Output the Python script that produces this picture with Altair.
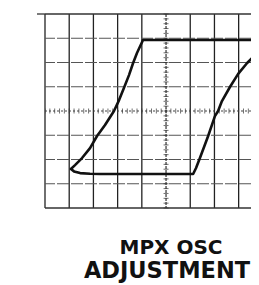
import altair as alt
import pandas as pd

# Oscilloscope graticule: 10 x 8 divisions, visible part is cropped at right
X_MAX = 8.51
vlines = [0, 1, 2, 3, 4, 6, 7, 8]
hlines = [-3, -2, -1, 1, 2, 3]
borders_y = [-4, 4]
minor_x = [round(0.2 * i, 1) for i in range(0, 43)]
minor_y = [round(0.2 * i, 1) for i in range(-20, 21)]

# Trace (in divisions), one continuous path
trace_x = [9.40, 9.10, 8.84, 8.35, 7.98, 7.64, 7.31, 7.15, 7.02, 6.74, 6.40, 6.24, 6.12,
           2.27, 1.86, 1.45, 1.20, 1.07,
           1.24, 1.53, 1.86, 2.15, 2.48, 2.85, 3.06, 3.26, 3.47, 3.64, 3.80, 4.05,
           10.0]
trace_y = [2.90, 2.72, 2.47, 1.98, 1.53, 0.99, 0.41, 0.00, -0.21, -1.03, -1.94, -2.35, -2.60,
           -2.60, -2.59, -2.56, -2.49, -2.39,
           -2.23, -1.94, -1.53, -1.03, -0.58, 0.00, 0.45, 0.95, 1.48, 1.98, 2.39, 2.93,
           2.93]

title_lines = ["MPX OSC", "ADJUSTMENT"]

W, H = 206, 194
xs = alt.Scale(domain=[0, X_MAX], nice=False, zero=False)
ys = alt.Scale(domain=[-4, 4], nice=False, zero=False)

vdf = pd.DataFrame({"x": vlines})
hdf = pd.DataFrame({"y": hlines})
bdf = pd.DataFrame({"y": borders_y})
tdf = pd.DataFrame({"x": trace_x, "y": trace_y, "o": list(range(len(trace_x)))})
mxdf = pd.DataFrame({"x": minor_x})
mydf = pd.DataFrame({"y": minor_y})

vgrid = alt.Chart(vdf).mark_rule(color="#222", strokeWidth=1.3).encode(
    x=alt.X("x:Q", scale=xs, axis=None))
hgrid = alt.Chart(hdf).mark_rule(color="#555", strokeWidth=1, strokeDash=[12, 2]).encode(
    y=alt.Y("y:Q", scale=ys, axis=None))
bgrid = alt.Chart(bdf).mark_rule(color="#333", strokeWidth=1.3).encode(
    y=alt.Y("y:Q", scale=ys), x=alt.value(0), x2=alt.value(W))
top_ext = alt.Chart(pd.DataFrame({"y": [4]})).mark_rule(color="#333", strokeWidth=1.3).encode(
    y=alt.Y("y:Q", scale=ys), x=alt.value(-8), x2=alt.value(0))
hcenter = alt.Chart(pd.DataFrame({"y": [0]})).mark_rule(color="#444", strokeWidth=1, strokeDash=[2, 2]).encode(
    y=alt.Y("y:Q", scale=ys))
vcenter = alt.Chart(pd.DataFrame({"x": [5]})).mark_rule(color="#333", strokeWidth=1.2, strokeDash=[3, 1]).encode(
    x=alt.X("x:Q", scale=xs))
hticks = alt.Chart(mxdf).mark_tick(orient="vertical", size=5, thickness=1, color="#333", clip=True).encode(
    x=alt.X("x:Q", scale=xs), y=alt.datum(0, scale=ys))
vticks = alt.Chart(mydf).mark_tick(orient="horizontal", size=5, thickness=1, color="#333").encode(
    y=alt.Y("y:Q", scale=ys), x=alt.datum(5, scale=xs))
trace = alt.Chart(tdf).mark_line(color="#111", strokeWidth=2.6, clip=True,
                                 strokeJoin="round", strokeCap="round").encode(
    x=alt.X("x:Q", scale=xs), y=alt.Y("y:Q", scale=ys), order="o:Q")

t1 = alt.Chart(pd.DataFrame({"t": [title_lines[0]]})).mark_text(
    font="DejaVu Sans", fontWeight="bold", fontSize=20, align="center", baseline="alphabetic",
    color="#111").encode(text="t:N", x=alt.value(126), y=alt.value(240))
t2 = alt.Chart(pd.DataFrame({"t": [title_lines[1]]})).mark_text(
    font="DejaVu Sans", fontWeight="bold", fontSize=22.5, align="center", baseline="alphabetic",
    color="#111").encode(text="t:N", x=alt.value(122), y=alt.value(264))

chart = alt.layer(vgrid, hgrid, bgrid, hcenter, vcenter, hticks, vticks, top_ext, trace, t1, t2).properties(
    width=W, height=H,
    autosize=alt.AutoSizeParams(type="none"),
    padding={"left": 37, "top": 6, "right": 0, "bottom": 76},
    background="white",
).configure_view(stroke=None)

chart.save("out.html", embed_options={"renderer": "svg", "actions": False})
